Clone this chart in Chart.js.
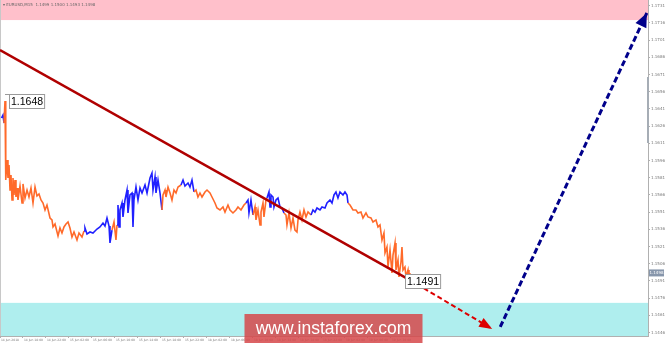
<!DOCTYPE html>
<meta charset="utf-8">
<title>EURUSD M15</title>
<style>body{margin:0;background:#fff}</style>
<canvas id="chart" width="665" height="345"></canvas>
<script src="https://cdn.jsdelivr.net/npm/chart.js@4"></script>
<script>
  // hours since 14 Jun 14:00 (trading time, weekend skipped)
  const hours = [
    0.26,0.52,0.70,0.87,0.96,1.04,1.22,1.39,1.57,1.74,
    1.91,2.09,2.26,2.43,2.61,2.78,2.96,3.13,3.48,3.83,
    4.00,4.35,4.70,5.04,5.39,5.74,6.09,6.43,6.78,7.13,
    7.48,7.83,8.17,8.70,9.04,9.22,9.57,10.09,10.43,10.78,
    11.13,11.48,11.83,12.17,12.52,12.87,13.39,13.74,14.26,14.61,
    14.78,15.13,15.65,16.17,16.87,17.39,17.91,18.26,18.61,18.96,
    19.13,19.48,
    19.83,20.17,20.35,
    20.52,20.70,20.87,21.22,21.39,21.74,22.09,22.26,22.61,22.96,
    23.13,23.30,23.65,24.00,24.35,24.70,25.22,25.57,26.09,26.43,
    26.61,26.96,27.13,27.48,27.83,28.17,
    28.35,28.70,28.87,29.22,29.57,29.91,30.26,30.61,30.96,31.48,
    31.83,32.17,32.70,33.04,33.39,33.74,
    34.09,34.43,34.78,35.13,35.65,36.00,36.52,36.87,37.39,37.74,
    38.26,38.78,39.13,39.65,40.00,40.52,41.04,41.39,41.91,42.43,
    42.78,
    43.13,43.30,43.65,44.00,
    44.35,44.52,44.87,45.22,45.39,45.74,45.91,46.26,46.43,
    46.78,46.96,47.13,47.48,47.65,48.00,48.35,48.70,49.04,49.39,
    49.74,49.91,50.26,50.61,50.96,51.30,51.65,51.83,52.17,52.52,
    52.87,53.22,53.57,54.09,
    54.43,54.78,55.13,55.65,56.00,56.52,56.87,57.39,57.74,58.09,
    58.43,58.78,59.13,59.65,60.00,60.35,60.52,
    60.87,61.39,61.91,62.26,62.78,63.13,63.65,64.00,64.52,64.87,
    65.39,65.74,66.09,66.43,66.78,66.96,67.30,67.48,67.83,68.17,
    68.35,68.70,68.87,69.22,69.39,69.74,69.91,70.09,70.43,70.61,
    70.96,71.13,71.30
  ]
  const prices = [
    1.16331,1.16357,1.16287,1.16479,1.15965,1.15790,1.15965,1.15808,1.15921,1.15703,
    1.15834,1.15616,1.15808,1.15660,1.15790,1.15642,1.15721,1.15616,1.15738,1.15590,
    1.15756,1.15633,1.15703,1.15642,1.15721,1.15590,1.15729,1.15651,1.15668,1.15616,
    1.15590,1.15529,1.15572,1.15459,1.15442,1.15381,1.15407,1.15302,1.15372,1.15328,
    1.15381,1.15407,1.15424,1.15372,1.15293,1.15337,1.15267,1.15328,1.15293,1.15346,
    1.15372,1.15320,1.15337,1.15328,1.15363,1.15381,1.15415,1.15389,1.15459,1.15389,
    1.15241,1.15354,
    1.15424,1.15267,1.15398,
    1.15572,1.15381,1.15529,1.15590,1.15468,1.15616,1.15703,1.15503,1.15660,1.15677,
    1.15381,1.15616,1.15729,1.15616,1.15721,1.15677,1.15747,1.15677,1.15808,1.15851,
    1.15703,1.15817,1.15677,1.15790,1.15677,1.15529,
    1.15660,1.15703,1.15642,1.15729,1.15677,1.15616,1.15703,1.15677,1.15729,1.15747,
    1.15790,1.15738,1.15764,1.15729,1.15790,1.15686,
    1.15703,1.15642,1.15677,1.15642,1.15686,1.15703,1.15677,1.15642,1.15590,1.15546,
    1.15529,1.15555,1.15511,1.15572,1.15529,1.15503,1.15529,1.15555,1.15529,1.15572,
    1.15590,
    1.15616,1.15503,1.15616,1.15485,
    1.15555,1.15442,1.15529,1.15398,1.15511,1.15590,1.15468,1.15616,1.15633,
    1.15686,1.15555,1.15660,1.15642,1.15555,1.15616,1.15633,1.15555,1.15546,1.15503,
    1.15485,1.15398,1.15503,1.15372,1.15459,1.15354,1.15337,1.15442,1.15511,1.15442,
    1.15529,1.15468,1.15511,1.15485,
    1.15529,1.15511,1.15546,1.15529,1.15555,1.15546,1.15590,1.15616,1.15590,1.15660,
    1.15686,1.15633,1.15686,1.15660,1.15686,1.15660,1.15590,
    1.15572,1.15529,1.15529,1.15503,1.15511,1.15459,1.15503,1.15468,1.15459,1.15424,
    1.15442,1.15381,1.15398,1.15267,1.15328,1.15154,1.15206,1.15032,1.15180,1.14979,
    1.15136,1.15241,1.15006,1.15093,1.14945,1.15075,1.15206,1.15006,1.15032,1.14945,
    1.15006,1.14910,1.14980
  ]
  // u = up swing (blue), d = down swing (orange), run lengths
  const swingRuns = [["u",3],["d",47],["u",12],["d",3],["u",26],["d",10],["u",6],
    ["d",21],["u",4],["d",9],["u",10],["d",14],["u",17],["d",33]]

  const trendLine = [[0, 1.16924], [71.3, 1.14918]]
  const forecastDown = [[71.3, 1.14918], [85.6, 1.14491]]
  const forecastUp = [[87.0, 1.14509], [112.5, 1.17247]]
  const sellZone = [1.17185, 1.1736]
  const buyZone = [1.1443, 1.14719]
  const extremes = [[0.87, 1.1648], [71.13, 1.1491]]
  const lastPrice = 1.1498

  const priceTicks = [1.1731,1.1716,1.1701,1.1686,1.1671,1.1656,1.1641,1.1626,1.1611,1.1596,
    1.1581,1.1566,1.1551,1.1536,1.1521,1.1506,1.1491,1.1476,1.1461,1.1446]
  const timeTicks = [0,4,8,12,16,20,24,28,32,36,40,44,48,52,56,60,64,68]
  const timeLabels = ["14 Jun 2018","14 Jun 18:00","14 Jun 22:00","15 Jun 02:00","15 Jun 06:00",
    "15 Jun 10:00","15 Jun 14:00","15 Jun 18:00","15 Jun 22:00","18 Jun 02:00","18 Jun 06:00",
    "18 Jun 10:00","18 Jun 14:00","18 Jun 18:00","18 Jun 22:00","19 Jun 02:00","19 Jun 06:00",
    "19 Jun 10:00"]
  const header = "\u25BE EURUSD,M15  1.1499 1.1500 1.1493 1.1498"

  const swing = swingRuns.flatMap(([s, n]) => Array(n).fill(s))
  const pts = a => a.map(([x, y]) => ({ x, y }))

  function arrowHead(ctx, a, b, color, len, half) {
    const ang = Math.atan2(b.y - a.y, b.x - a.x)
    ctx.save()
    ctx.translate(b.x, b.y)
    ctx.rotate(ang)
    ctx.beginPath()
    ctx.moveTo(0, 0)
    ctx.lineTo(-len, -half)
    ctx.lineTo(-len, half)
    ctx.closePath()
    ctx.fillStyle = color
    ctx.fill()
    ctx.restore()
  }

  const marks = {
    id: "marks",
    beforeDatasetsDraw(chart) {
      const { ctx, chartArea: a, scales: { y } } = chart
      ctx.save()
      ctx.fillStyle = "#ffc0cb"
      let t = y.getPixelForValue(sellZone[1]), b = y.getPixelForValue(sellZone[0])
      ctx.fillRect(a.left, t, a.width, b - t)
      ctx.fillStyle = "#afeeee"
      t = y.getPixelForValue(buyZone[1]); b = y.getPixelForValue(buyZone[0])
      ctx.fillRect(a.left, t, a.width, b - t)
      ctx.strokeStyle = "#c8c8c8"
      ctx.lineWidth = 1
      ctx.beginPath()
      ctx.moveTo(a.left + 0.5, a.top)
      ctx.lineTo(a.left + 0.5, a.bottom)
      ctx.stroke()
      ctx.restore()
    },
    afterDatasetsDraw(chart) {
      const { ctx, scales: { x, y } } = chart
      const down = chart.getDatasetMeta(1).data, up = chart.getDatasetMeta(2).data
      arrowHead(ctx, down[0], down[1], "#dd0000", 13, 5)
      arrowHead(ctx, up[0], up[1], "#00008b", 14, 6)

      ctx.save()
      ctx.font = "10.5px 'Liberation Sans', Arial, sans-serif"
      ctx.textBaseline = "middle"
      const dx = [4, -4]
      extremes.forEach(([h, p], i) => {
        const px = x.getPixelForValue(h), py = y.getPixelForValue(p)
        const txt = p.toFixed(4)
        const w = ctx.measureText(txt).width + 3
        const left = Math.round(px + dx[i]) + 0.5, top = Math.round(py - 7) + 0.5
        ctx.fillStyle = "#fff"
        ctx.fillRect(left, top, w, 14)
        ctx.strokeStyle = "#9a9a9a"
        ctx.lineWidth = 1
        ctx.strokeRect(left, top, w, 14)
        if (dx[i] > 0) {
          ctx.beginPath()
          ctx.moveTo(px, top)
          ctx.lineTo(left, top)
          ctx.stroke()
        }
        ctx.fillStyle = "#000"
        ctx.fillText(txt, left + 1.5, top + 7.5)
      })
      ctx.restore()
    },
    afterDraw(chart) {
      const { ctx, chartArea: a, scales: { y }, width, height } = chart
      ctx.save()
      // header line
      ctx.font = "4px 'DejaVu Sans', sans-serif"
      ctx.fillStyle = "#666"
      ctx.textBaseline = "middle"
      ctx.fillText(header, 3, 4.5)

      // current price tag on the axis
      const py = y.getPixelForValue(lastPrice)
      ctx.fillStyle = "#8796ab"
      ctx.fillRect(a.right + 1, py - 3.5, 15, 7)
      ctx.fillStyle = "#fff"
      ctx.textAlign = "center"
      ctx.fillText(lastPrice.toFixed(4), a.right + 8.5, py)

      // scroll marker on the price axis
      ctx.strokeStyle = "#a6adb5"
      ctx.lineWidth = 2
      ctx.beginPath()
      ctx.moveTo(a.right, y.getPixelForValue(1.16689))
      ctx.lineTo(a.right, y.getPixelForValue(1.16113))
      ctx.stroke()

      // watermark
      const ww = 178, wh = 29
      const wx = width / 2 - ww / 2 + 1, wy = height - 31
      ctx.fillStyle = "rgba(214,72,74,0.85)"
      ctx.fillRect(wx, wy, ww, wh)
      ctx.fillStyle = "#fff"
      ctx.font = "17.5px 'Liberation Sans', Arial, sans-serif"
      ctx.fillText("www.instaforex.com", wx + ww / 2, wy + wh / 2 + 1)
      ctx.restore()
    },
  }

  window.chart = new Chart(document.getElementById("chart"), {
    type: "line",
    data: {
      datasets: [
        {
          data: pts(trendLine),
          borderColor: "#b00000",
          borderWidth: 2.5,
          pointRadius: 0,
        },
        {
          data: pts(forecastDown),
          borderColor: "#dd0000",
          borderWidth: 2,
          borderDash: [5, 3],
          pointRadius: 0,
        },
        {
          data: pts(forecastUp),
          borderColor: "#00008b",
          borderWidth: 3,
          borderDash: [6, 3],
          pointRadius: 0,
        },
        {
          data: hours.map((h, i) => ({ x: h, y: prices[i] })),
          borderWidth: 1.6,
          pointRadius: 0,
          segment: {
            borderColor: c => swing[c.p1DataIndex] == "u" ? "#2020ff" : "#ff6a2a",
          },
        },
      ],
    },
    options: {
      responsive: false,
      animation: false,
      layout: { padding: 0 },
      plugins: { legend: { display: false }, tooltip: { enabled: false } },
      scales: {
        x: {
          type: "linear",
          min: 0,
          max: 112.7,
          grid: { drawOnChartArea: false, tickLength: 2, color: "#b0b0b0" },
          border: { color: "#b0b0b0" },
          ticks: {
            align: "start",
            maxRotation: 0,
            autoSkip: false,
            padding: 0,
            color: "#777",
            font: { size: 3, family: "DejaVu Sans" },
            callback: (v, i) => " " + timeLabels[i],
          },
          afterBuildTicks: s => { s.ticks = timeTicks.map(value => ({ value })) },
          afterFit: s => { s.height = 9; s.paddingLeft = 0; s.paddingRight = 0 },
        },
        y: {
          position: "right",
          min: 1.1443,
          max: 1.1736,
          grid: { drawOnChartArea: false, tickLength: 2, color: "#b0b0b0" },
          border: { color: "#b0b0b0" },
          ticks: {
            padding: 1,
            color: "#777",
            font: { size: 4, family: "DejaVu Sans" },
            callback: v => v.toFixed(4),
          },
          afterBuildTicks: s => { s.ticks = priceTicks.map(value => ({ value })) },
          afterFit: s => { s.width = 17; s.paddingTop = 0; s.paddingBottom = 0 },
        },
      },
    },
    plugins: [marks],
  })
</script>
